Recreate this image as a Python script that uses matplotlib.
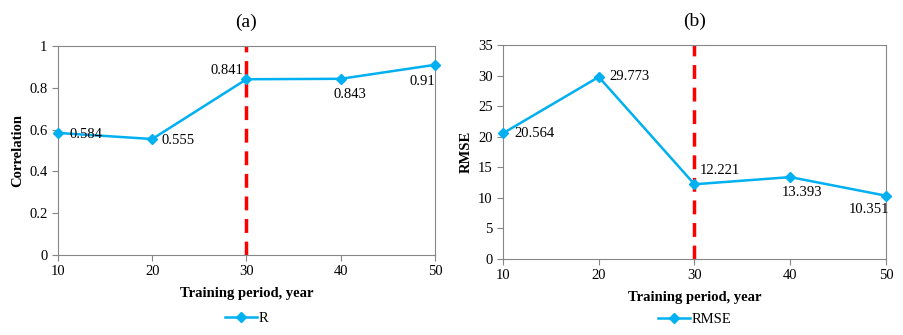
import numpy as np
import matplotlib.pyplot as plt

plt.rcParams['font.family'] = ['Liberation Serif', 'DejaVu Serif']

years = [10, 20, 30, 40, 50]
corr = [0.584, 0.555, 0.841, 0.843, 0.91]
rmse = [20.564, 29.773, 12.221, 13.393, 10.351]
corr_labels = ['0.584', '0.555', '0.841', '0.843', '0.91']
rmse_labels = ['20.564', '29.773', '12.221', '13.393', '10.351']

blue = '#00B0F0'
grey = '#868686'
fs = 10.5

fig = plt.figure(figsize=(9.04, 3.35), dpi=100)
ax1 = fig.add_axes([58/904, 1-255/335, (435-58)/904, (255-46)/335])
ax2 = fig.add_axes([503/904, 1-259/335, (886-503)/904, (259-45)/335])


def style(ax):
    for s in ax.spines.values():
        s.set_color(grey)
    ax.tick_params(colors=grey, labelcolor='black', labelsize=fs, length=4, width=0.8)
    ax.set_xlim(10, 50)
    ax.set_xticks(years)
    ax.set_xlabel('Training period, year', fontsize=fs, fontweight='bold', labelpad=6)


# (a) correlation
ax1.axvline(30, color='#FF0000', lw=2.5, ls=(0, (4, 2.5)))
ax1.plot(years, corr, color=blue, lw=1.8, marker='D', ms=5, label='R', clip_on=False, zorder=3)
ax1.set_ylim(0, 1)
ax1.set_yticks([0, 0.2, 0.4, 0.6, 0.8, 1])
ax1.set_yticklabels(['0', '0.2', '0.4', '0.6', '0.8', '1'])
ax1.set_ylabel('Correlation', fontsize=fs, fontweight='bold')
style(ax1)
offs1 = [(8, -1), (7, -1), (-26, 6), (-5, -11), (-18, -12)]
for x, y, t, o in zip(years, corr, corr_labels, offs1):
    ax1.annotate(t, (x, y), xytext=o, textcoords='offset points', fontsize=fs, va='center')
ax1.set_title('(a)', fontsize=14, pad=14)
ax1.legend(loc='upper center', bbox_to_anchor=(0.5, -0.21), frameon=False,
           fontsize=fs, handlelength=2.2, handletextpad=0.1)

# (b) RMSE
ax2.axvline(30, color='#FF0000', lw=2.5, ls=(0, (4, 2.5)))
ax2.plot(years, rmse, color=blue, lw=1.8, marker='D', ms=5, label='RMSE', clip_on=False, zorder=3)
ax2.set_ylim(0, 35)
ax2.set_yticks(np.arange(0, 36, 5))
ax2.set_ylabel('RMSE', fontsize=fs, fontweight='bold')
style(ax2)
offs2 = [(8, 0), (8, 0), (4, 10), (-6.5, -11), (-27, -10)]
for x, y, t, o in zip(years, rmse, rmse_labels, offs2):
    ax2.annotate(t, (x, y), xytext=o, textcoords='offset points', fontsize=fs, va='center')
ax2.set_title('(b)', fontsize=14, pad=14)
ax2.legend(loc='upper center', bbox_to_anchor=(0.5, -0.19), frameon=False,
           fontsize=fs, handlelength=2.2, handletextpad=0.1)

fig.savefig('out.png', dpi=100)
